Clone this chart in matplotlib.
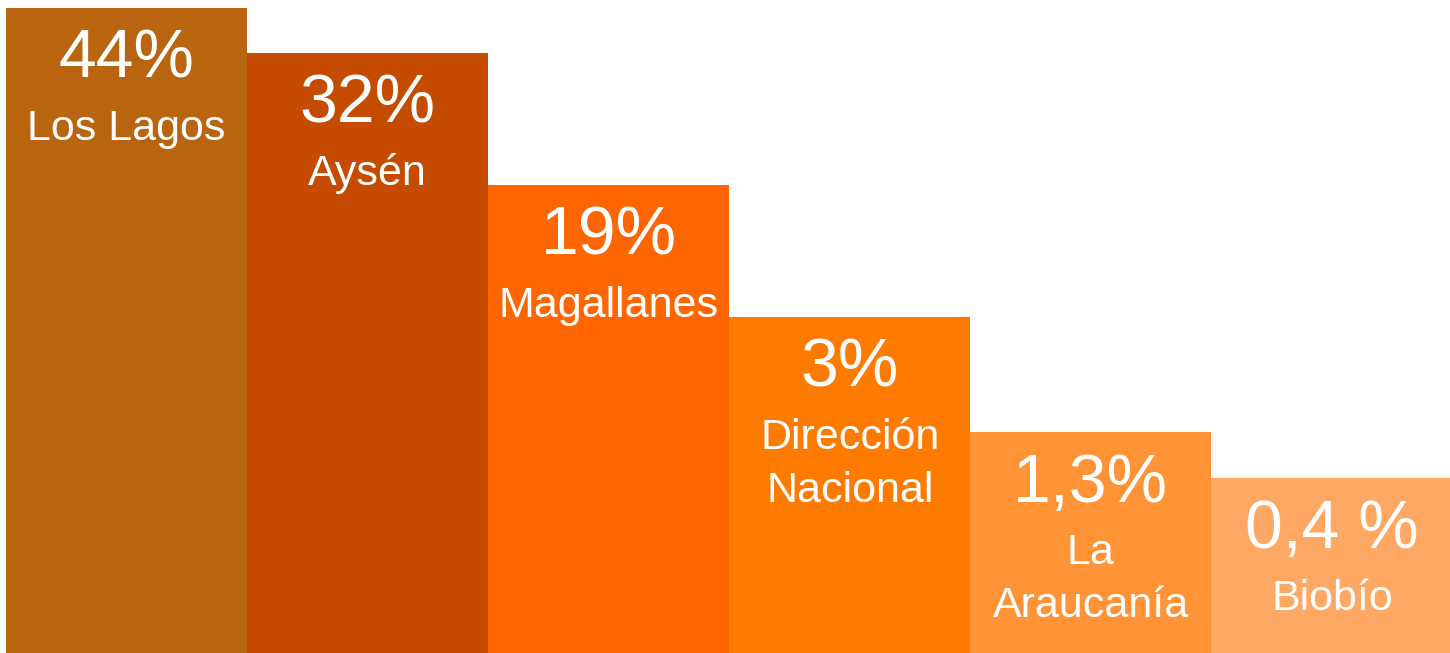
import matplotlib.pyplot as plt
import numpy as np

regions = ['Los Lagos', 'Aysén', 'Magallanes', 'Dirección\nNacional', 'La\nAraucanía', 'Biobío']
shares = ['44%', '32%', '19%', '3%', '1,3%', '0,4 %']
# stepped bar heights (axis top = 100)
heights = [98.8, 91.9, 71.7, 51.5, 33.8, 26.8]
colors = ['#B9650F', '#C54B00', '#FF6600', '#FF7B00', '#FF9335', '#FFA864']

plt.rcParams['font.family'] = ['Liberation Sans', 'DejaVu Sans']

fig = plt.figure(figsize=(14.5, 6.53), dpi=100)
ax = fig.add_axes([0, 0, 1, 1])

x = np.arange(len(regions))
bars = ax.bar(x, heights, width=1.0, align='edge', color=colors, linewidth=0)

ax.set_xlim(-0.025, 5.99)
ax.set_ylim(0, 100)
ax.axis('off')

for b, share, name in zip(bars, shares, regions):
    cx = b.get_x() + b.get_width() / 2
    top = b.get_height()
    ax.annotate(share, (cx, top), xytext=(0, -52), textcoords='offset pixels',
                ha='center', va='center', color='white', fontsize=49)
    for i, line in enumerate(name.split('\n')):
        ax.annotate(line, (cx, top), xytext=(0, -121 - 53 * i), textcoords='offset pixels',
                    ha='center', va='center', color='white', fontsize=31)

fig.savefig('out.png', dpi=100)
